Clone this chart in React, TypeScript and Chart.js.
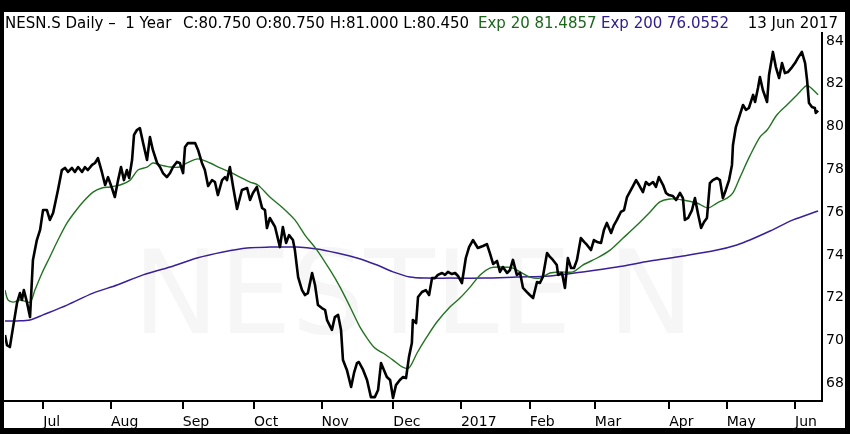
import React, { useEffect, useRef } from 'react';
import { Chart, registerables } from 'chart.js';

Chart.register(...registerables);

// trading-day index (0 = 14 Jun 2016) and close prices
const closeDay = [
  0, 0.6, 1.5, 2.5, 3.7, 4.6, 5.2, 5.8, 6.8, 7.7,
  8.6, 9.8, 10.8, 11.7, 12.9, 13.8, 14.8, 16.3, 17.5, 18.5,
  19.4, 20.6, 21.5, 22.5, 23.7, 24.6, 25.5, 26.8, 27.7, 28.6,
  29.8, 30.8, 31.7, 32.9, 33.8, 34.8, 35.7, 36.6, 37.5, 38.2,
  39.1, 39.7, 40.6, 41.5, 42.5, 43.7, 44.6, 45.5, 46.8, 47.7,
  48.6, 49.8, 50.8, 51.7, 52.9, 53.8, 54.8, 55.4, 56.3, 58.5,
  59.4, 60.6, 61.5, 62.5, 63.7, 64.6, 65.5, 66.8, 67.7, 68.3,
  69.2, 70.2, 71.4, 72.9, 74.5, 75.4, 76.3, 77.5, 79.1, 80.0,
  80.6, 81.5, 83.1, 84.6, 85.5, 86.5, 87.4, 88.6, 89.2, 90.2,
  91.4, 92.3, 93.2, 94.5, 95.4, 96.3, 97.5, 98.5, 99.1, 100.6,
  101.5, 102.5, 103.4, 104.0, 105.2, 106.5, 107.4, 108.3, 108.9, 110.2,
  111.4, 112.6, 113.8, 114.8, 115.7, 116.6, 117.5, 118.5, 119.4, 120.3,
  121.5, 122.5, 123.4, 124.3, 125.2, 125.5, 126.5, 127.1, 128.3, 129.5,
  130.5, 131.4, 132.3, 133.2, 134.5, 135.4, 136.3, 137.5, 138.5, 139.4,
  140.6, 141.8, 142.8, 144.0, 145.5, 147.1, 148.3, 149.2, 150.2, 151.4,
  152.3, 153.2, 154.5, 155.4, 156.3, 157.5, 158.5, 159.4, 160.6, 161.5,
  162.5, 163.7, 164.6, 165.5, 166.8, 167.7, 168.6, 169.8, 170.2, 171.4,
  172.3, 173.2, 174.2, 175.1, 176.0, 177.2, 178.2, 179.1, 180.3, 181.2,
  182.2, 183.4, 184.3, 185.2, 186.5, 187.4, 188.3, 189.5, 190.5, 191.4,
  192.9, 194.2, 195.1, 196.3, 197.2, 198.2, 199.4, 200.3, 201.2, 202.5,
  203.4, 204.3, 205.5, 206.5, 207.7, 208.6, 209.2, 210.2, 211.4, 212.3,
  213.2, 214.2, 215.1, 216.0, 216.9, 217.8, 219.1, 220.0, 220.9, 221.8,
  222.8, 223.7, 224.0, 224.9, 225.8, 227.1, 228.0, 228.9, 230.2, 230.8,
  231.7, 232.3, 233.2, 234.5, 235.1, 236.3, 237.2, 238.2, 239.1, 240.0,
  240.9, 242.2, 243.1, 244.0, 245.2, 246.2, 246.8, 247.4, 248.3, 249.2,
  249.5, 250.2,
];
const closeValue = [
  70.26, 69.79, 69.70, 70.64, 71.76, 72.22, 71.90, 72.36, 71.76, 71.10,
  73.77, 74.70, 75.17, 76.10, 76.10, 75.64, 75.96, 77.04, 77.97, 78.07,
  77.88, 78.07, 77.88, 78.11, 77.88, 78.11, 77.97, 78.21, 78.30, 78.53,
  77.88, 77.27, 77.64, 77.13, 76.71, 77.50, 78.11, 77.50, 77.97, 77.60,
  78.44, 79.61, 79.84, 79.93, 79.23, 78.44, 79.51, 78.91, 78.30, 78.11,
  77.83, 77.64, 77.83, 78.11, 78.35, 78.30, 77.83, 79.05, 79.23, 79.23,
  78.91, 78.30, 77.97, 77.22, 77.50, 77.41, 76.80, 77.50, 77.64, 77.50,
  78.11, 77.18, 76.15, 77.04, 77.13, 76.57, 76.90, 77.18, 76.20, 76.10,
  75.26, 75.73, 75.31, 74.37, 75.31, 74.56, 74.93, 74.70, 74.23, 72.97,
  72.36, 72.13, 72.22, 73.16, 72.60, 71.66, 71.52, 71.43, 70.96, 70.50,
  71.10, 71.20, 70.50, 69.09, 68.63, 67.83, 68.49, 68.95, 69.00, 68.63,
  68.16, 67.36, 67.36, 67.69, 68.95, 68.63, 68.30, 68.16, 67.32, 67.92,
  68.16, 68.30, 68.25, 69.23, 69.89, 70.96, 70.82, 72.04, 72.27, 72.36,
  72.13, 72.92, 72.92, 73.07, 73.16, 73.07, 73.21, 73.11, 73.16, 73.02,
  72.69, 73.86, 74.37, 74.70, 74.33, 74.42, 74.51, 74.09, 73.58, 73.72,
  73.21, 73.44, 73.16, 73.30, 73.77, 73.07, 73.16, 72.46, 72.27, 72.13,
  71.99, 72.74, 72.69, 72.97, 74.09, 73.91, 73.77, 73.53, 73.07, 73.16,
  72.46, 73.86, 73.39, 73.39, 73.77, 74.79, 74.61, 74.47, 74.23, 74.70,
  74.61, 74.56, 75.17, 75.50, 75.03, 75.40, 75.64, 76.01, 76.10, 76.71,
  77.13, 77.50, 77.27, 76.94, 77.41, 77.27, 77.41, 77.18, 77.64, 77.27,
  76.90, 76.80, 76.76, 76.57, 76.90, 76.66, 75.64, 75.73, 76.10, 76.66,
  75.96, 75.26, 75.54, 75.73, 77.36, 77.50, 77.60, 77.50, 76.66, 77.04,
  77.50, 78.21, 79.14, 79.98, 80.40, 81.01, 80.78, 80.87, 81.48, 81.15,
  81.80, 82.32, 81.71, 81.15, 82.41, 83.49, 82.78, 82.27, 82.97, 82.50,
  82.55, 82.78, 82.97, 83.21, 83.49, 82.97, 82.18, 81.10, 80.92, 80.87,
  80.64, 80.75,
];

// 20-day exponential average
const ema20Day = [
  0, 0.9, 2.5, 4.6, 7.7, 9.2, 11.4, 13.8, 16.3, 19.1,
  21.5, 24.0, 27.1, 29.8, 32.3, 35.4, 38.5, 40.9, 43.7, 45.5,
  47.7, 50.8, 53.8, 56.0, 59.4, 63.1, 66.2, 69.2, 72.3, 75.4,
  77.8, 81.5, 85.5, 89.2, 92.3, 96.0, 100.0, 103.1, 106.2, 109.2,
  111.4, 113.8, 116.3, 119.4, 122.2, 124.3, 126.8, 129.8, 132.9, 136.9,
  140.0, 143.1, 146.2, 149.2, 152.3, 156.3, 158.5, 161.5, 164.6, 167.7,
  170.8, 174.8, 177.8, 182.2, 186.2, 190.2, 194.5, 198.5, 201.5, 204.6,
  208.6, 212.9, 216.3, 219.1, 222.2, 224.0, 226.2, 229.2, 232.3, 234.5,
  237.5, 240.6, 243.7, 246.5, 247.7, 250.2,
];
const ema20Value = [
  72.36, 71.90, 71.80, 71.90, 71.80, 72.36, 73.16, 73.91, 74.70, 75.50,
  76.01, 76.48, 76.94, 77.13, 77.18, 77.27, 77.50, 77.97, 78.11, 78.30,
  78.21, 78.11, 78.11, 78.30, 78.49, 78.30, 78.07, 77.88, 77.64, 77.41,
  77.27, 76.71, 76.20, 75.64, 74.93, 74.23, 73.30, 72.50, 71.57, 70.64,
  70.12, 69.65, 69.42, 69.09, 68.77, 68.72, 69.42, 70.17, 70.87, 71.57,
  71.99, 72.50, 73.07, 73.39, 73.44, 73.39, 73.21, 72.97, 72.92, 73.16,
  73.21, 73.21, 73.53, 73.86, 74.23, 74.79, 75.40, 76.01, 76.48, 76.62,
  76.57, 76.43, 76.20, 76.43, 76.66, 76.90, 77.64, 78.63, 79.51, 79.84,
  80.54, 81.01, 81.48, 81.90, 81.85, 81.49,
];

// 200-day exponential average
const ema200Day = [
  0, 3.7, 7.7, 11.7, 19.1, 27.1, 34.5, 42.5, 50.8, 59.1,
  67.1, 74.5, 81.5, 89.8, 96.0, 102.2, 108.3, 114.5, 119.4, 124.6,
  129.8, 136.9, 147.1, 157.5, 167.7, 177.8, 188.3, 198.5, 208.6, 219.1,
  225.2, 229.2, 235.4, 242.5, 250.2,
];
const ema200Value = [
  70.92, 70.92, 70.96, 71.20, 71.66, 72.22, 72.60, 73.07, 73.44, 73.86,
  74.14, 74.33, 74.37, 74.37, 74.28, 74.09, 73.86, 73.53, 73.21, 72.97,
  72.92, 72.92, 72.92, 72.97, 73.02, 73.21, 73.44, 73.72, 73.95, 74.23,
  74.47, 74.70, 75.12, 75.64, 76.06,
];

const monthTickDay = [11.8, 32.6, 54.7, 76.6, 97.4, 119.5, 140.3, 161.5, 181.5, 204.4, 222.1, 243.1];
const monthTickLabel = ['Jul', 'Aug', 'Sep', 'Oct', 'Nov', 'Dec', '2017', 'Feb', 'Mar', 'Apr', 'May', 'Jun'];
const priceTicks = [68, 70, 72, 74, 76, 78, 80, 82, 84];

const titleMain = 'NESN.S Daily \u2013  1 Year';
const titleOhlc = 'C:80.750 O:80.750 H:81.000 L:80.450';
const titleEma20 = 'Exp 20 81.4857';
const titleEma200 = 'Exp 200 76.0552';
const titleDate = '13 Jun 2017';
const watermarkText = 'NESTLE N';

const FONT = '"DejaVu Sans", Verdana, sans-serif';
const GREEN = '#237323';
const PURPLE = '#3a1f98';

const watermark = {
  id: 'watermark',
  beforeDatasetsDraw(chart: any) {
    const { ctx, chartArea } = chart;
    ctx.save();
    ctx.font = '115px ' + FONT;
    ctx.fillStyle = '#f6f6f6';
    ctx.textAlign = 'center';
    ctx.textBaseline = 'alphabetic';
    ctx.fillText(watermarkText, (chartArea.left + chartArea.right) / 2, chartArea.top + 300);
    ctx.restore();
  },
};

export default function App() {
  const ref = useRef<HTMLCanvasElement>(null);

  useEffect(() => {
    const toPts = (xs: number[], ys: number[]) => xs.map((x, i) => ({ x, y: ys[i] }));
    const chart = new Chart(ref.current as HTMLCanvasElement, {
      type: 'line',
      data: {
        datasets: [
          {
            label: 'Close',
            data: toPts(closeDay, closeValue),
            borderColor: '#000',
            borderWidth: 2.6,
            pointRadius: 0,
            tension: 0,
            borderJoinStyle: 'round',
          },
          {
            label: 'Exp 20',
            data: toPts(ema20Day, ema20Value),
            borderColor: GREEN,
            borderWidth: 1.4,
            pointRadius: 0,
            tension: 0.3,
          },
          {
            label: 'Exp 200',
            data: toPts(ema200Day, ema200Value),
            borderColor: PURPLE,
            borderWidth: 1.5,
            pointRadius: 0,
            tension: 0.3,
          },
        ],
      },
      options: {
        animation: false,
        responsive: true,
        maintainAspectRatio: false,
        layout: { padding: { left: 1, top: 21, right: 0, bottom: 0 } },
        plugins: { legend: { display: false }, tooltip: { enabled: false } },
        scales: {
          x: {
            type: 'linear',
            position: 'bottom',
            min: 0,
            max: 251.4,
            afterBuildTicks: (s: any) => {
              s.ticks = monthTickDay.map((v) => ({ value: v }));
            },
            afterFit: (s: any) => {
              s.height = 27;
            },
            grid: {
              drawOnChartArea: false,
              drawTicks: true,
              tickLength: 8,
              color: '#000',
              lineWidth: 2,
            },
            border: { display: true, color: '#000', width: 2 },
            ticks: {
              autoSkip: false,
              maxRotation: 0,
              align: 'start',
              padding: 5,
              color: '#000',
              font: { family: FONT, size: 14 },
              callback: (v: any) => {
                const i = monthTickDay.indexOf(Number(v));
                return i >= 0 ? monthTickLabel[i] : '';
              },
            },
          },
          y: {
            type: 'linear',
            position: 'right',
            min: 67.178,
            max: 84.374,
            afterBuildTicks: (s: any) => {
              s.ticks = priceTicks.map((v) => ({ value: v }));
            },
            afterFit: (s: any) => {
              s.width = 23;
            },
            grid: { display: true, drawOnChartArea: false, drawTicks: false },
            border: { display: true, color: '#000', width: 2 },
            ticks: {
              padding: 4,
              color: '#000',
              font: { family: FONT, size: 14 },
              callback: (v: any) => String(v),
            },
          },
        },
      },
      plugins: [watermark],
    } as any);
    return () => chart.destroy();
  }, []);

  const txt: React.CSSProperties = {
    position: 'absolute',
    top: 15,
    fontFamily: FONT,
    fontSize: 15,
    lineHeight: '17px',
    whiteSpace: 'pre',
    color: '#000',
  };

  return (
    <div style={{ position: 'fixed', left: 0, top: 0, width: 850, height: 434, background: '#000', overflow: 'hidden' }}>
      <div style={{ position: 'absolute', left: 4, top: 12, width: 841, height: 416, background: '#fff' }}>
        <canvas ref={ref} />
      </div>
      <span style={{ ...txt, left: 5 }}>{titleMain}</span>
      <span style={{ ...txt, left: 183 }}>{titleOhlc}</span>
      <span style={{ ...txt, left: 478, color: '#1c661c' }}>{titleEma20}</span>
      <span style={{ ...txt, left: 601, color: '#32208a' }}>{titleEma200}</span>
      <span style={{ ...txt, right: 12 }}>{titleDate}</span>
    </div>
  );
}
